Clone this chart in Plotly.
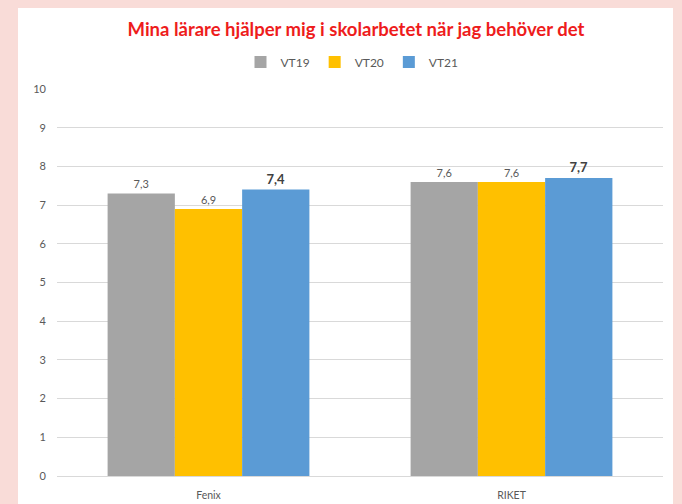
import plotly.graph_objects as go

categories = ["Fenix", "RIKET"]
series_names = ["VT19", "VT20", "VT21"]
vt19 = [7.3, 7.6]
vt20 = [6.9, 7.6]
vt21 = [7.4, 7.7]
colors = ["#a5a5a5", "#ffc000", "#5b9bd5"]
y_ticks = [0, 1, 2, 3, 4, 5, 6, 7, 8, 9, 10]

def fmt(v):
    return f"{v:.1f}".replace(".", ",")

fig = go.Figure()
for name, vals, col in zip(series_names, [vt19, vt20, vt21], colors):
    bold = name == "VT21"
    fig.add_trace(go.Bar(
        x=categories, y=vals, name=name, marker_color=col, marker_line_width=0,
        text=[("<b>%s</b>" % fmt(v)) if bold else fmt(v) for v in vals],
        textposition="outside", cliponaxis=False,
        textfont=dict(size=13 if bold else 11, color="#404040" if bold else "#595959",
                      family="Lato"),
    ))

W, H = 682, 504
L, R, T, B = 57, 19, 89, 28
pw = W - L - R
ph = H - T - B

fig.update_layout(
    width=W, height=H,
    margin=dict(l=L, r=R, t=T, b=B, autoexpand=False),
    paper_bgcolor="#f9dcd8",
    plot_bgcolor="white",
    barmode="group", bargap=0.334, bargroupgap=0,
    font=dict(family="Lato", color="#595959", size=11),
    title=dict(text="<b>Mina lärare hjälper mig i skolarbetet när jag behöver det</b>",
               font=dict(family="Lato", size=18.5, color="#ee1c1c"),
               x=356 / W, xanchor="center", xref="container",
               y=1 - 30 / H, yanchor="middle", yref="container"),
    legend=dict(orientation="h", x=(352 - L) / pw, xanchor="center",
                y=(H - B - 62) / ph, yanchor="middle",
                font=dict(size=12, color="#595959"), bgcolor="rgba(0,0,0,0)",
                itemwidth=30, traceorder="normal"),
    showlegend=True,
    shapes=[dict(type="rect", xref="paper", yref="paper", layer="below",
                 x0=(18 - L) / pw, x1=(673 - L) / pw,
                 y0=-B / ph - 0.01, y1=(H - B - 8) / ph,
                 fillcolor="white", line=dict(width=0))],
)
fig.update_yaxes(range=[0, 10], tickvals=y_ticks, showgrid=True, gridcolor="#d9d9d9",
                 zeroline=True, zerolinecolor="#d9d9d9", zerolinewidth=1,
                 showline=False, ticks="", tickfont=dict(size=11, color="#595959"),
                 ticklabelstandoff=10, automargin=False)
fig.update_xaxes(showgrid=False, showline=False, ticks="",
                 tickfont=dict(size=10.5, color="#595959"), ticklabelstandoff=11,
                 automargin=False)

fig.write_html("out.html", config={"displayModeBar": False},
               post_script="document.body.style.margin='0';document.body.style.background='#f9dcd8';")
